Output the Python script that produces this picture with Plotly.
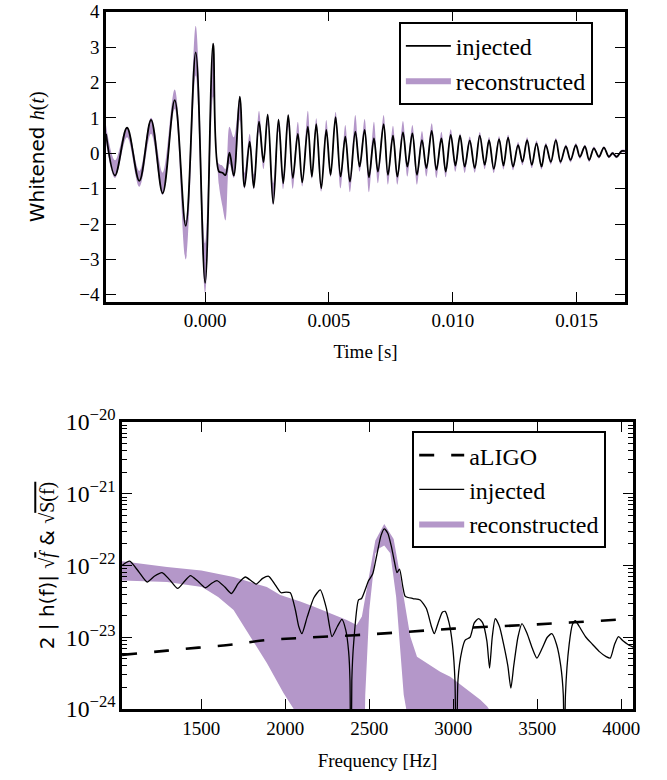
import plotly.graph_objects as go

# ---------------- whitened strain around merger ----------------
# times of successive extrema of the injected waveform, in milliseconds
t_ms = [-4.002, -3.638, -3.153, -2.656, -2.183, -1.714, -1.229, -0.784, -0.380, 0.000,
        0.323, 0.558, 0.699, 0.821, 0.982, 1.156, 1.399, 1.589, 1.799, 1.964,
        2.175, 2.356, 2.526, 2.749, 2.963, 3.153, 3.355, 3.541, 3.743, 3.921,
        4.147, 4.309, 4.487, 4.689, 4.891, 5.065, 5.267, 5.469, 5.659, 5.845,
        6.063, 6.237, 6.439, 6.613, 6.815, 6.976, 7.207, 7.381, 7.583, 7.761,
        7.987, 8.165, 8.367, 8.553, 8.755, 8.933, 9.147, 9.337, 9.539, 9.713,
        9.915, 10.105, 10.291, 10.481, 10.683, 10.885, 11.087, 11.289, 11.463, 11.653,
        11.867, 12.045, 12.231, 12.433, 12.635, 12.813, 12.999, 13.189, 13.379, 13.581,
        13.755, 13.957, 14.159, 14.349, 14.563, 14.753, 14.967, 15.129, 15.331, 15.505,
        15.695, 15.897, 16.099, 16.301, 16.450, 16.612, 16.814, 16.948]
h_injected = [0.55, -0.63, 0.72, -0.78, 0.94, -1.13, 1.50, -2.05, 2.85, -3.66,
              3.10, -0.52, -0.55, -0.62, 0.02, -0.63, 1.60, -0.95, 0.33, -0.97,
              0.89, -0.25, 1.09, -1.42, 0.95, -0.85, 1.08, -0.70, 0.55, -0.82,
              0.75, -0.66, 0.82, -0.99, 0.66, -0.61, 1.02, -0.66, 0.47, -0.80,
              0.61, -0.38, 0.66, -0.68, 0.42, -0.52, 0.82, -0.61, 0.50, -0.66,
              0.59, -0.38, 0.56, -0.61, 0.37, -0.42, 0.63, -0.47, 0.42, -0.52,
              0.52, -0.35, 0.50, -0.38, 0.36, -0.42, 0.50, -0.33, 0.37, -0.44,
              0.40, -0.35, 0.44, -0.38, 0.23, -0.24, 0.37, -0.33, 0.28, -0.38,
              0.23, -0.24, 0.37, -0.24, 0.19, -0.19, 0.23, -0.10, 0.19, -0.19,
              0.14, -0.10, 0.16, -0.10, 0.00, -0.10, 0.06, 0.06]
# reconstructed credible band at the same instants
h_rec_lo = [0.30, -0.70, 0.45, -0.95, 0.55, -1.18, 1.25, -3.00, 2.20, -3.95,
            1.60, -0.90, -1.50, -1.90, -0.30, -0.70, 0.95, -1.00, 0.20, -1.02,
            0.60, -0.45, 0.80, -1.46, 0.62, -1.02, 0.75, -1.00, 0.45, -0.94,
            0.65, -0.72, 0.72, -1.08, 0.56, -0.68, 0.92, -0.99, 0.37, -1.10,
            0.51, -0.52, 0.56, -1.10, 0.32, -0.85, 0.72, -0.89, 0.40, -0.89,
            0.49, -0.66, 0.46, -0.89, 0.27, -0.66, 0.53, -0.70, 0.32, -0.68,
            0.42, -0.52, 0.40, -0.56, 0.26, -0.55, 0.42, -0.45, 0.30, -0.56,
            0.33, -0.46, 0.37, -0.48, 0.17, -0.34, 0.30, -0.42, 0.22, -0.46,
            0.17, -0.32, 0.31, -0.31, 0.14, -0.26, 0.18, -0.16, 0.14, -0.25,
            0.10, -0.15, 0.12, -0.14, -0.04, -0.14, 0.02, 0.02]
h_rec_hi = [0.80, -0.20, 0.75, -0.50, 1.00, -0.55, 1.80, -1.90, 3.60, -2.55,
            3.12, -0.30, -0.35, -0.45, 0.75, 0.45, 1.62, -0.55, 0.55, -0.60,
            1.20, -0.10, 1.12, -0.85, 0.98, -0.60, 1.10, -0.55, 0.89, -0.72,
            1.20, -0.56, 0.99, -0.89, 0.94, -0.51, 1.17, -0.56, 0.80, -0.70,
            1.08, -0.28, 0.97, -0.58, 0.89, -0.42, 1.08, -0.51, 0.78, -0.56,
            0.91, -0.28, 0.80, -0.51, 0.63, -0.32, 0.85, -0.37, 0.61, -0.42,
            0.68, -0.25, 0.56, -0.28, 0.47, -0.34, 0.60, -0.26, 0.46, -0.37,
            0.48, -0.28, 0.52, -0.31, 0.32, -0.18, 0.45, -0.27, 0.36, -0.32,
            0.30, -0.19, 0.43, -0.19, 0.25, -0.14, 0.29, -0.06, 0.24, -0.15,
            0.19, -0.06, 0.20, -0.06, 0.04, -0.06, 0.10, 0.10]
t_sec = [v / 1000.0 for v in t_ms]

# ---------------- amplitude spectra (log10 of value) ----------------
f_aligo = [1028, 1296, 1504, 1692, 1881, 2089, 2500, 3000, 3500, 4014, 4070]
log_aligo = [-23.246, -23.186, -23.14, -23.10, -23.04, -23.01, -22.96, -22.88, -22.82, -22.75, -22.74]

f_inj = [1028, 1073, 1125, 1177, 1220, 1266, 1312, 1359, 1400, 1435,
         1480, 1524, 1560, 1593, 1640, 1679, 1720, 1762, 1800, 1827,
         1865, 1901, 1940, 1975, 2005, 2030, 2060, 2080, 2099, 2130,
         2170, 2208, 2245, 2278, 2310, 2337, 2360, 2377, 2385, 2390,
         2396, 2407, 2436, 2454, 2496, 2520, 2545, 2570, 2589, 2610,
         2630, 2650, 2665, 2680, 2700, 2714, 2760, 2803, 2840, 2870,
         2887, 2910, 2935, 2952, 2975, 2995, 3010, 3019, 3028, 3052,
         3071, 3100, 3125, 3151, 3175, 3200, 3216, 3232, 3250, 3275,
         3300, 3325, 3343, 3360, 3385, 3409, 3440, 3470, 3498, 3530,
         3560, 3587, 3615, 3640, 3655, 3661, 3668, 3690, 3710, 3727,
         3750, 3790, 3830, 3870, 3910, 3935, 3960, 3984, 4010, 4040, 4074]
log_inj = [-22.00, -21.94, -22.08, -22.23, -22.15, -22.10, -22.20, -22.32, -22.22, -22.14,
           -22.22, -22.31, -22.25, -22.21, -22.30, -22.39, -22.25, -22.16, -22.22, -22.26,
           -22.18, -22.15, -22.27, -22.38, -22.37, -22.38, -22.62, -22.85, -22.95, -22.72,
           -22.45, -22.34, -22.60, -22.99, -22.85, -22.75, -22.90, -23.20, -23.60, -26.0,
           -23.60, -23.08, -22.48, -22.46, -22.21, -22.12, -21.85, -21.58, -21.49, -21.55,
           -21.72, -21.95, -22.10, -22.05, -22.30, -22.43, -22.46, -22.48, -22.60, -22.85,
           -22.95, -22.80, -22.65, -22.64, -22.80, -23.10, -23.60, -26.0, -23.60, -23.18,
           -23.04, -23.00, -22.80, -22.74, -22.80, -23.05, -23.43, -23.00, -22.74, -22.85,
           -23.10, -23.40, -23.71, -23.40, -23.00, -22.81, -22.95, -23.15, -23.29, -23.15,
           -23.00, -22.95, -23.10, -23.40, -23.80, -26.0, -23.80, -23.10, -22.82, -22.77,
           -22.85, -23.00, -23.10, -23.20, -23.27, -23.29, -23.10, -22.99, -23.05, -23.10, -23.14]

f_rec_hi = [1028, 1296, 1500, 1692, 1890, 1970, 2089, 2168, 2366, 2425,
            2456, 2496, 2536, 2589, 2645, 2685, 2744, 2784, 2922, 2982,
            3161, 3201, 3240, 4070]
log_rec_hi = [-21.94, -22.02, -22.07, -22.16, -22.30, -22.41, -22.50, -22.57, -22.76, -22.83,
              -22.71, -22.16, -21.65, -21.42, -21.63, -22.16, -22.99, -23.27, -23.48, -23.55,
              -23.87, -23.96, -24.10, -26.0]
f_rec_lo = [1028, 1296, 1504, 1600, 1692, 1792, 1890, 1990, 2050, 2100,
            2460, 2476, 2500, 2536, 2560, 2589, 2625, 2660, 2690, 2705,
            2720, 2760, 4070]
log_rec_lo = [-22.21, -22.23, -22.30, -22.44, -22.62, -22.99, -23.36, -23.78, -24.0, -26.0,
              -26.0, -23.80, -22.62, -21.83, -21.76, -21.72, -21.83, -22.44, -23.31, -23.80,
              -24.0, -26.0, -26.0]

BAND = "rgb(180,151,201)"
SERIF = "Liberation Serif"
SANS = "DejaVu Sans"

fig = go.Figure()

# top panel: band then injected line
fig.add_trace(go.Scatter(x=t_sec, y=h_rec_hi, mode="lines", line=dict(width=0, shape="spline", color=BAND),
                         showlegend=False, hoverinfo="skip", xaxis="x", yaxis="y"))
fig.add_trace(go.Scatter(x=t_sec, y=h_rec_lo, mode="lines", line=dict(width=0, shape="spline", color=BAND),
                         fill="tonexty", fillcolor=BAND, name="reconstructed", legend="legend",
                         legendrank=2, xaxis="x", yaxis="y"))
fig.add_trace(go.Scatter(x=t_sec, y=h_injected, mode="lines", line=dict(width=1.8, shape="spline", color="black"),
                         name="injected", legend="legend", legendrank=1, xaxis="x", yaxis="y"))

# bottom panel: band, injected spectrum, detector noise
fig.add_trace(go.Scatter(x=f_rec_hi, y=[10 ** v for v in log_rec_hi], mode="lines",
                         line=dict(width=0, color=BAND), showlegend=False, hoverinfo="skip",
                         xaxis="x2", yaxis="y2"))
fig.add_trace(go.Scatter(x=f_rec_lo, y=[10 ** v for v in log_rec_lo], mode="lines",
                         line=dict(width=0, color=BAND), fill="tonexty", fillcolor=BAND,
                         name="reconstructed", legend="legend2", legendrank=3, xaxis="x2", yaxis="y2"))
fig.add_trace(go.Scatter(x=f_inj, y=[10 ** v for v in log_inj], mode="lines",
                         line=dict(width=1.3, color="black", shape="spline", smoothing=0.6),
                         name="injected", legend="legend2", legendrank=2, xaxis="x2", yaxis="y2"))
fig.add_trace(go.Scatter(x=f_aligo, y=[10 ** v for v in log_aligo], mode="lines",
                         line=dict(width=2.6, color="black", dash="15px,17px", shape="spline"),
                         name="aLIGO", legend="legend2", legendrank=1, xaxis="x2", yaxis="y2"))

tick_font = dict(family=SERIF, size=19, color="black")
frame = dict(showline=True, linewidth=2.5, linecolor="black", mirror="ticks",
             ticks="inside", ticklen=10, tickwidth=1.3, tickcolor="black",
             showgrid=False, zeroline=False, tickfont=tick_font, automargin=False)

legend_style = dict(bgcolor="white", bordercolor="black", borderwidth=2,
                    font=dict(family=SERIF, size=24, color="black"),
                    xanchor="left", yanchor="top", itemwidth=45, tracegroupgap=0,
                    traceorder="normal")

ser = "font-family:Liberation Serif"
ytitle_top = ('Whitened <span style="%s;font-style:italic">h</span><span style="%s">(</span>'
              '<span style="%s;font-style:italic">t</span><span style="%s">)</span>') % (ser, ser, ser, ser)
ytitle_bot = ('2 | h(f)| <span style="%s">√</span><span style="%s;font-style:italic;text-decoration:overline">f</span>'
              ' &amp; <span style="%s">√</span><span style="%s;text-decoration:overline">S(f)</span>') % (ser, ser, ser, ser)

fig.update_layout(
    width=667, height=780, autosize=False,
    margin=dict(l=0, r=0, t=0, b=0, pad=0, autoexpand=False),
    paper_bgcolor="white", plot_bgcolor="white",
    xaxis=dict(domain=[0.159, 0.937], anchor="y", range=[-0.004, 0.01695],
               tickvals=[0.0, 0.005, 0.010, 0.015], tickformat=".3f",
               title=dict(text="Time [s]", font=dict(family=SERIF, size=19, color="black"), standoff=15),
               **frame),
    yaxis=dict(domain=[0.613, 0.985], anchor="x", range=[-4.2, 4.0], dtick=1,
               title=dict(text=ytitle_top, font=dict(family=SANS, size=20, color="black"), standoff=30),
               **frame),
    xaxis2=dict(domain=[0.183, 0.949], anchor="y2", range=[1028, 4070],
                tickvals=[1500, 2000, 2500, 3000, 3500, 4000],
                title=dict(text="Frequency [Hz]", font=dict(family=SERIF, size=19, color="black"), standoff=17),
                **frame),
    yaxis2=dict(domain=[0.091, 0.459], anchor="x2", type="log", range=[-24, -20], dtick=1,
                exponentformat="power",
                minor=dict(ticks="inside", ticklen=5, tickwidth=1, tickcolor="black", showgrid=False),
                title=dict(text=ytitle_bot, font=dict(family=SANS, size=20, color="black"), standoff=6),
                **frame),
    legend=dict(x=0.598, y=0.972, **legend_style),
    legend2=dict(x=0.618, y=0.4474, **legend_style),
)

fig.write_html("out.html")
